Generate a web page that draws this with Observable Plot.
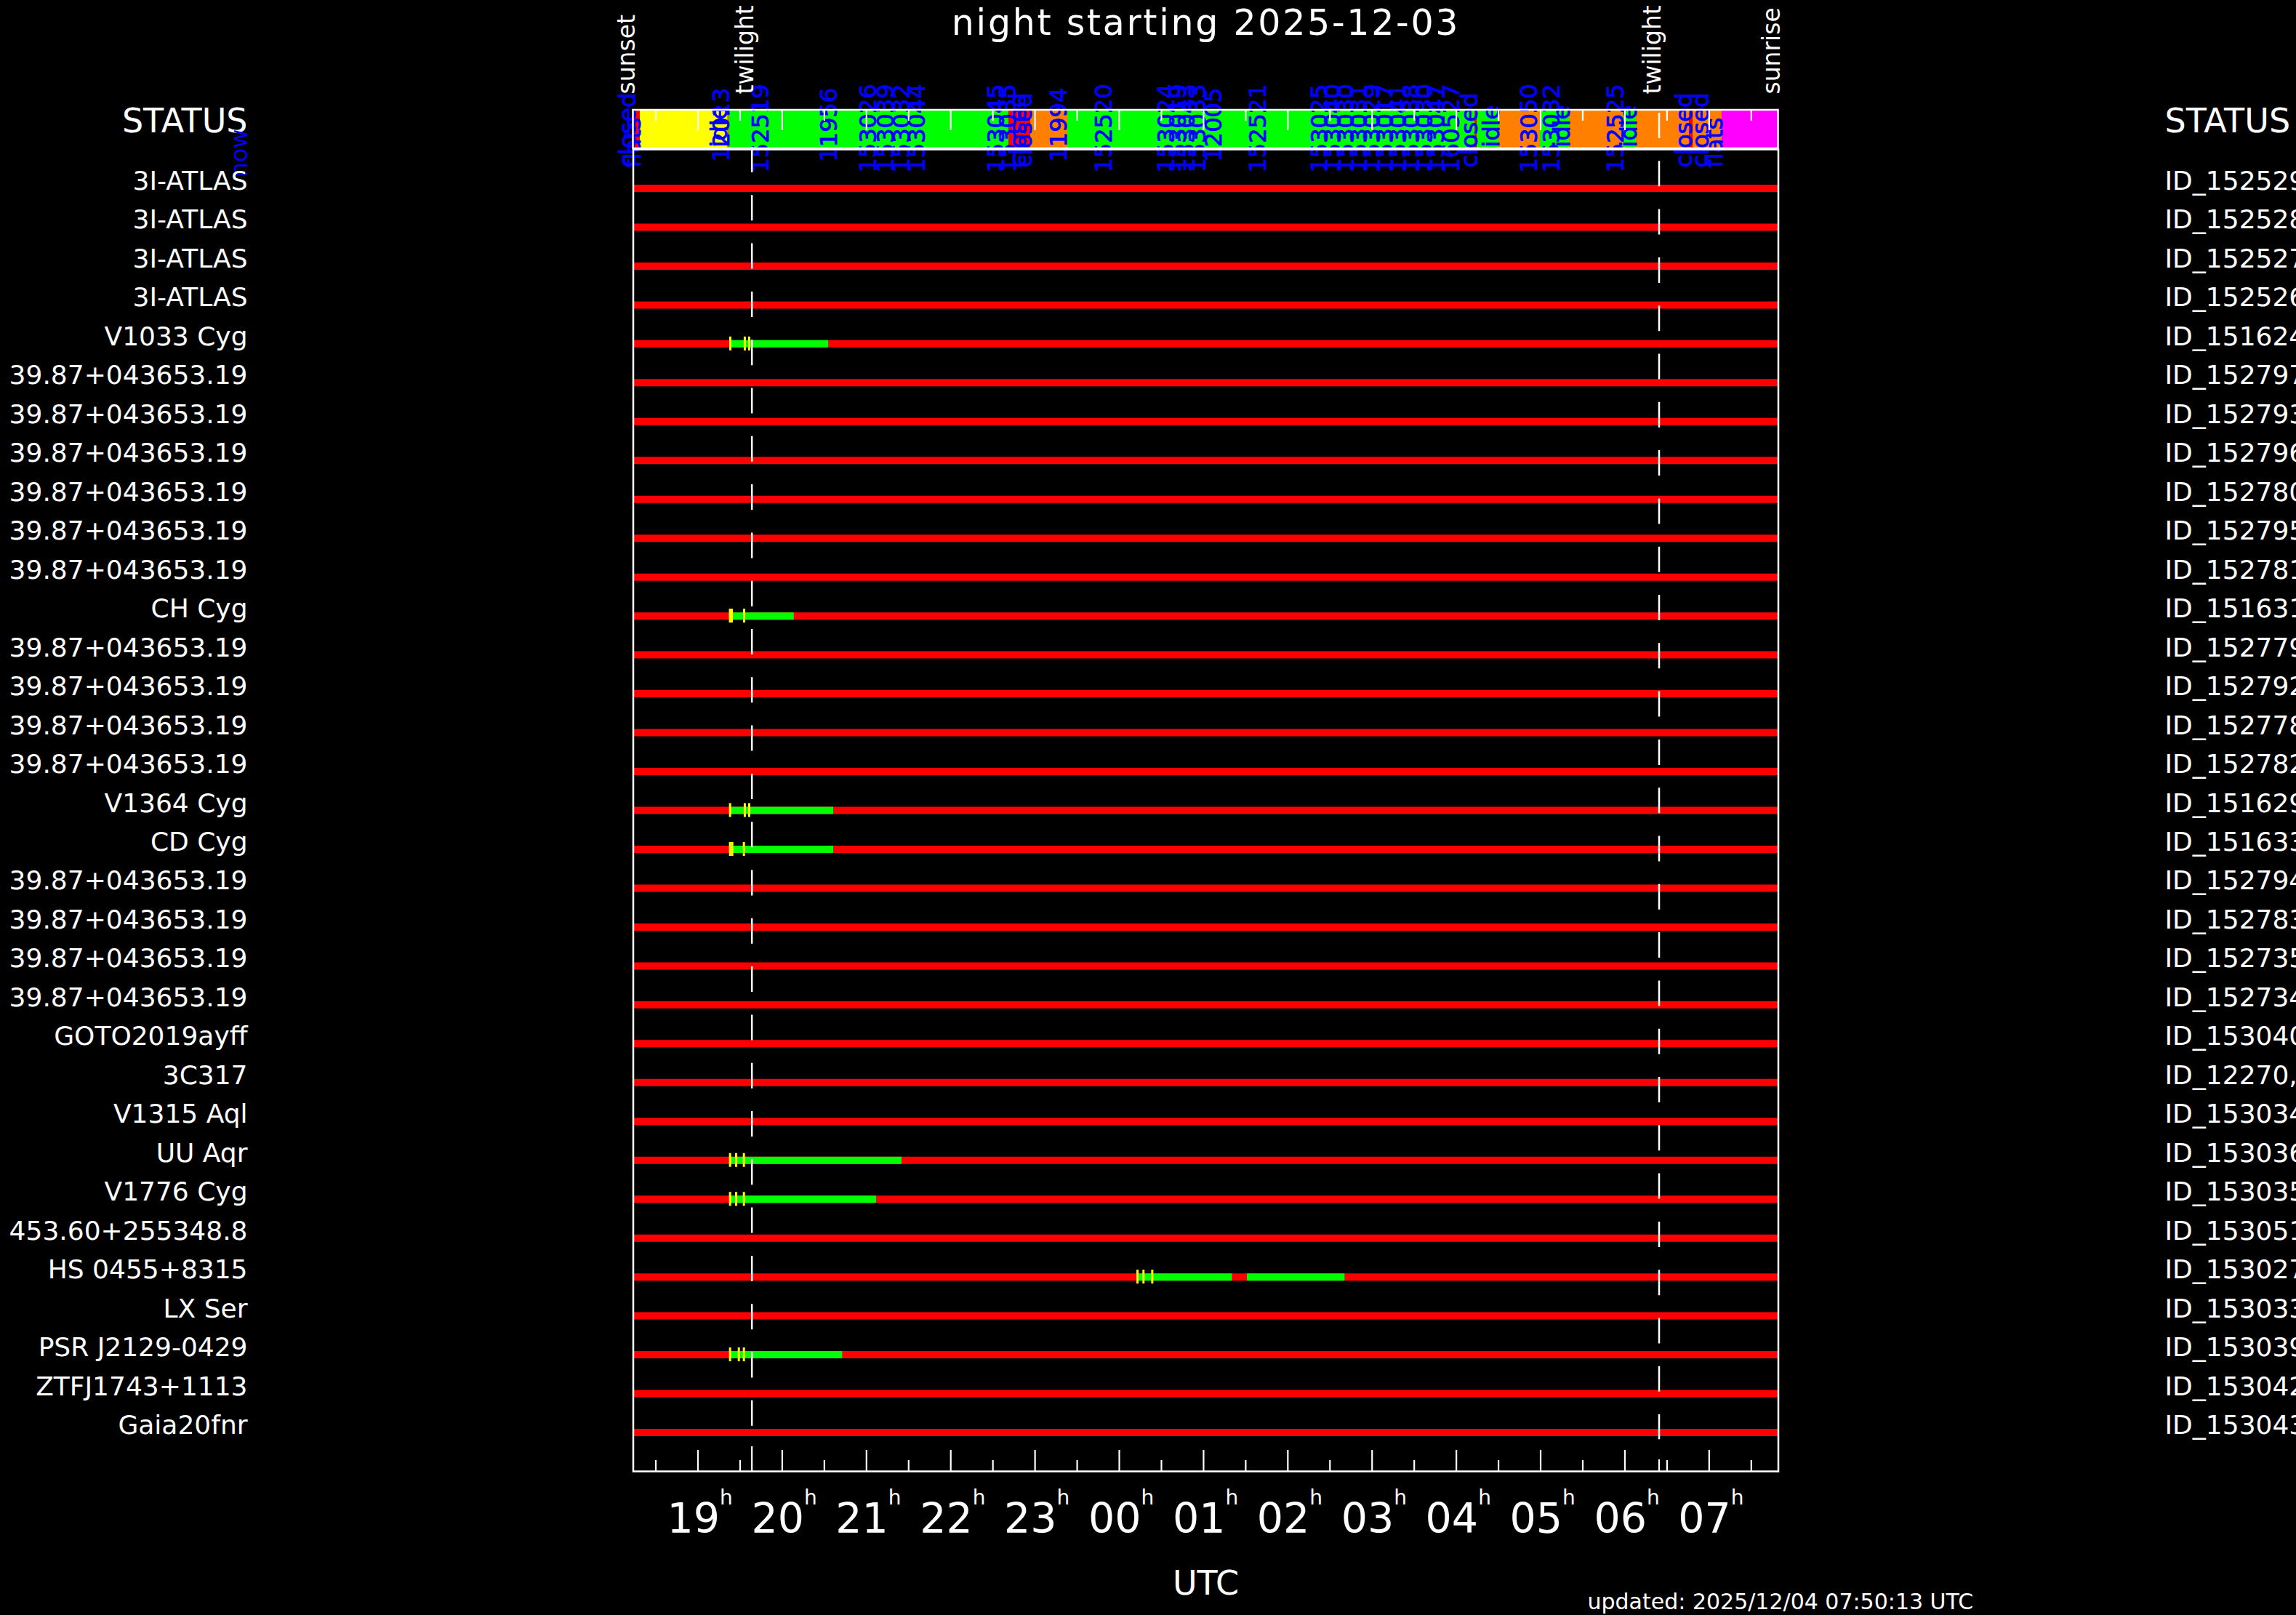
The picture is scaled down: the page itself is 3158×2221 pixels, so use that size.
<!DOCTYPE html>
<html>
<head>
<meta charset="utf-8">
<script src="https://cdn.jsdelivr.net/npm/d3@7"></script>
<script src="https://cdn.jsdelivr.net/npm/@observablehq/plot@0.6"></script>
<style>
  html, body { margin: 0; padding: 0; background: #000; overflow: hidden; }
  #chart svg { display: block; overflow: hidden; }
</style>
</head>
<body>
<div id="chart"></div>
<script>
// ---------- data (times in hours UTC counted from 2025-12-03 00:00) ----------
const nightDate = "2025-12-03";
const updatedText = "updated: 2025/12/04 07:50:13 UTC";
const sunset = 18.232;
const sunrise = 31.821;
const twilightEvening = 19.640;
const twilightMorning = 30.406;

// target names as far as they are visible in the original (long ones run off the left edge)
const targetNames = [
  "3I-ATLAS", "3I-ATLAS", "3I-ATLAS", "3I-ATLAS", "V1033 Cyg",
  "39.87+043653.19", "39.87+043653.19", "39.87+043653.19",
  "39.87+043653.19", "39.87+043653.19", "39.87+043653.19",
  "CH Cyg",
  "39.87+043653.19", "39.87+043653.19", "39.87+043653.19",
  "39.87+043653.19",
  "V1364 Cyg", "CD Cyg",
  "39.87+043653.19", "39.87+043653.19", "39.87+043653.19",
  "39.87+043653.19",
  "GOTO2019ayff", "3C317", "V1315 Aql", "UU Aqr", "V1776 Cyg",
  "453.60+255348.8", "HS 0455+8315", "LX Ser", "PSR J2129-0429",
  "ZTFJ1743+1113", "Gaia20fnr"
];
const requestIds = [
  "ID_152529", "ID_152528", "ID_152527", "ID_152526", "ID_151624",
  "ID_152797", "ID_152793", "ID_152796", "ID_152780", "ID_152795", "ID_152781",
  "ID_151631",
  "ID_152779", "ID_152792", "ID_152778", "ID_152782",
  "ID_151629", "ID_151633",
  "ID_152794", "ID_152783", "ID_152735", "ID_152734",
  "ID_153040", "ID_12270,", "ID_153034", "ID_153036", "ID_153035",
  "ID_153051", "ID_153027", "ID_153033", "ID_153039", "ID_153042", "ID_153043"
];

// observed (green) intervals
const greenRow   = [5, 12, 17, 18, 26, 27, 29, 29, 31];
const greenStart = [19.393, 19.412, 19.393, 19.412, 19.393, 19.393, 24.216, 25.519, 19.393];
const greenEnd   = [20.549, 20.141, 20.609, 20.609, 21.420, 21.118, 25.340, 26.677, 20.715];

// yellow event ticks
const tickRow  = [5, 5, 5, 12, 12, 12, 17, 17, 17, 18, 18, 18, 26, 26, 26, 27, 27, 27, 29, 29, 29, 31, 31, 31];
const tickTime = [19.384, 19.556, 19.608, 19.380, 19.401, 19.548, 19.381, 19.556, 19.608,
                  19.381, 19.407, 19.545, 19.381, 19.453, 19.545, 19.381, 19.453, 19.545,
                  24.216, 24.287, 24.391, 19.381, 19.485, 19.545];

// telescope status strip
const statusStart = [18.232, 18.314, 19.349, 19.371, 22.689, 22.947, 23.387, 28.219, 28.245, 28.504, 28.996, 29.341, 29.980, 30.135, 30.765, 30.808, 31.153];
const statusEnd   = [18.314, 19.349, 19.371, 22.689, 22.947, 23.387, 28.219, 28.245, 28.504, 28.996, 29.341, 29.980, 30.135, 30.765, 30.808, 31.153, 31.821];
const statusColor = ["#ff0000", "#ffff00", "#ff8000", "#00ff00", "#ff0000", "#ff8000", "#00ff00", "#ff0000", "#00ff00", "#ff8000", "#00ff00", "#ff8000", "#00ff00", "#ff8000", "#ff0000", "#ff8000", "#ff00ff"];

// status strip annotations
const labelTime = [18.254, 18.314, 19.349, 19.367, 19.841, 20.644,
  21.118, 21.317, 21.507, 21.696, 22.628, 22.766, 22.887, 22.956,
  23.370, 23.905, 24.647, 24.785, 24.897, 25.018, 25.216, 25.734,
  26.468, 26.623, 26.778, 26.934, 27.089, 27.244, 27.400, 27.555, 27.710, 27.848,
  28.037, 28.245, 28.504, 28.953, 29.220, 29.341, 29.980, 30.135, 30.791, 30.989, 31.153];
const labelText = ["closed", "flats", "idle", "12013", "152519", "11956",
  "153026", "153039", "153032", "153044", "153045", "153035", "closed", "closed",
  "11994", "152520", "153024", "153019", "153043", "153033", "12005", "152521",
  "153025", "153040", "153030", "153031", "153029", "153017", "153041", "153038", "153030", "153047",
  "160527", "closed", "idle", "153050", "153032", "idle", "152525", "idle", "closed", "closed", "flats"];

const eventTime = [sunset, twilightEvening, twilightMorning, sunrise];
const eventName = ["sunset", "twilight", "twilight", "sunrise"];

const hourTicks = [19, 20, 21, 22, 23, 24, 25, 26, 27, 28, 29, 30, 31];
const hourLabels = ["19", "20", "21", "22", "23", "00", "01", "02", "03", "04", "05", "06", "07"];
const halfHourTicks = [18.5, 19.5, 20.5, 21.5, 22.5, 23.5, 24.5, 25.5, 26.5, 27.5, 28.5, 29.5, 30.5, 31.5];

// ---------- tables ----------
const rows = targetNames.map((name, i) => ({row: i + 1, name, id: requestIds[i]}));
const greens = greenRow.map((row, i) => ({row, start: greenStart[i], end: greenEnd[i]}));
const ticks = tickRow.map((row, i) => ({row, t: tickTime[i]}));
const segments = statusStart.map((s, i) => ({start: s, end: statusEnd[i], color: statusColor[i]}));
const labels = labelTime.map((t, i) => ({t, text: labelText[i]}));
const events = eventTime.map((t, i) => ({t, name: eventName[i]}));
const hours = hourTicks.map((h, i) => ({h, label: hourLabels[i]}));

const num6 = labels.filter(d => /^\d{6}$/.test(d.text));
const num5 = labels.filter(d => /^\d{5}$/.test(d.text));
const idle = labels.filter(d => d.text === "idle");
const words = labels.filter(d => !/^\d+$/.test(d.text) && d.text !== "idle");

const STATUS_TOP = -1.01, STATUS_BOTTOM = -0.02;
const BLUE = "#0000ff";
const rotLabel = {rotate: -90, textAnchor: "start", lineAnchor: "bottom", frameAnchor: "top",
                  fill: BLUE, stroke: BLUE, strokeWidth: 0.8, fontSize: 32};

const chart = Plot.plot({
  width: 3158,
  height: 2221,
  marginLeft: 870.5,
  marginRight: 712.5,
  marginTop: 205,
  marginBottom: 198,
  x: {domain: [sunset, sunrise], axis: null},
  y: {domain: [0, 34], reverse: true, axis: null},
  color: {type: "identity"},
  style: {background: "#000", color: "#fff", fontFamily: "DejaVu Sans", overflow: "hidden"},
  marks: [
    // status strip
    Plot.rect(segments, {x1: "start", x2: "end", y1: STATUS_TOP, y2: STATUS_BOTTOM, fill: "color"}),
    Plot.text(num6, {...rotLabel, x: "t", text: "text", dy: 32}),
    Plot.text(num5, {...rotLabel, x: "t", text: "text", dy: 17}),
    Plot.text(words, {...rotLabel, x: "t", text: "text", dy: 25}),
    Plot.text(idle, {...rotLabel, x: "t", text: "text", dy: -3}),
    Plot.ruleX(hourTicks, {x: d => d, y1: STATUS_TOP, y2: -0.486, stroke: "#fff", strokeWidth: 2.2}),
    Plot.ruleX(halfHourTicks, {x: d => d, y1: STATUS_TOP, y2: -0.729, stroke: "#fff", strokeWidth: 2.2}),
    Plot.rect([0], {x1: sunset, x2: sunrise, y1: STATUS_TOP, y2: STATUS_BOTTOM, fill: "none", stroke: "#fff", strokeWidth: 2.5}),

    // rows
    Plot.ruleY(rows, {y: "row", stroke: "#ff0000", strokeWidth: 10}),
    Plot.ruleY(greens, {y: "row", x1: "start", x2: "end", stroke: "#00ff00", strokeWidth: 10}),
    Plot.ruleX(ticks, {x: "t", y1: d => d.row - 0.178, y2: d => d.row + 0.178, stroke: "#ffff00", strokeWidth: 3}),

    // twilight dashed lines
    Plot.ruleX([twilightEvening], {x: d => d, y1: -0.056, y2: 32.84, stroke: "#fff", strokeWidth: 2.5, strokeDasharray: "35,31.3"}),
    Plot.ruleX([twilightMorning], {x: d => d, y1: -0.935, y2: 33.18, stroke: "#fff", strokeWidth: 2.5, strokeDasharray: "35,31.3"}),

    // frame and bottom time axis
    Plot.frame({stroke: "#fff", strokeWidth: 2.5}),
    Plot.ruleX(hourTicks, {x: d => d, y1: 34, y2: 33.458, stroke: "#fff", strokeWidth: 2.2}),
    Plot.ruleX(halfHourTicks, {x: d => d, y1: 34, y2: 33.72, stroke: "#fff", strokeWidth: 2.2}),
    Plot.ruleX([twilightEvening], {x: d => d, y1: 34, y2: 33.364, stroke: "#fff", strokeWidth: 2.2}),
    Plot.ruleX([twilightMorning], {x: d => d, y1: 34, y2: 33.70, stroke: "#fff", strokeWidth: 2.2}),
    Plot.text(hours, {x: "h", text: "label", frameAnchor: "bottom", textAnchor: "end", lineAnchor: "bottom", dx: 30, dy: 84, fontSize: 57, fill: "#fff"}),
    Plot.text(hours, {x: "h", text: () => "h", frameAnchor: "bottom", textAnchor: "start", lineAnchor: "bottom", dx: 30, dy: 45, fontSize: 28, fill: "#fff"}),
    Plot.text(["UTC"], {text: d => d, frameAnchor: "bottom", textAnchor: "middle", lineAnchor: "bottom", dy: 169, fontSize: 46, fill: "#fff"}),
    Plot.text([updatedText], {text: d => d, frameAnchor: "bottom-right", textAnchor: "start", lineAnchor: "bottom", dx: -262.5, dy: 189, fontSize: 30, fill: "#fff"}),

    // sun / twilight events
    Plot.text(events, {x: "t", text: "name", rotate: -90, textAnchor: "start", lineAnchor: "bottom", frameAnchor: "top", dx: 2, dy: -76, fontSize: 33, fill: "#fff"}),

    // title and headers
    Plot.text([`night starting ${nightDate}`], {text: d => d, frameAnchor: "top", textAnchor: "middle", lineAnchor: "bottom", dy: -158, fontSize: 49, fill: "#fff"}),
    Plot.text(["STATUS"], {text: d => d, frameAnchor: "top-left", textAnchor: "end", lineAnchor: "bottom", dx: -530.5, dy: -24, fontSize: 46, fill: "#fff"}),
    Plot.text(["STATUS"], {text: d => d, frameAnchor: "top-right", textAnchor: "start", lineAnchor: "bottom", dx: 531.5, dy: -24, fontSize: 46, fill: "#fff"}),
    Plot.text(["now"], {text: d => d, frameAnchor: "top-left", rotate: -90, textAnchor: "start", lineAnchor: "bottom", dx: -531.5, dy: 38, fontSize: 32, fill: BLUE}),

    // row labels
    Plot.text(rows, {y: "row", text: "name", frameAnchor: "left", textAnchor: "end", lineAnchor: "bottom", dx: -530.5, dy: 2, fontSize: 36, fill: "#fff"}),
    Plot.text(rows, {y: "row", text: "id", frameAnchor: "right", textAnchor: "start", lineAnchor: "bottom", dx: 531.5, dy: 2, fontSize: 36, fill: "#fff"})
  ]
});

// widen the title's letter spacing like the original plotting font
d3.select(chart).selectAll("text")
  .filter(function () { return this.textContent.startsWith("night starting"); })
  .style("letter-spacing", "2.7px");

document.getElementById("chart").appendChild(chart);
</script>
</body>
</html>
